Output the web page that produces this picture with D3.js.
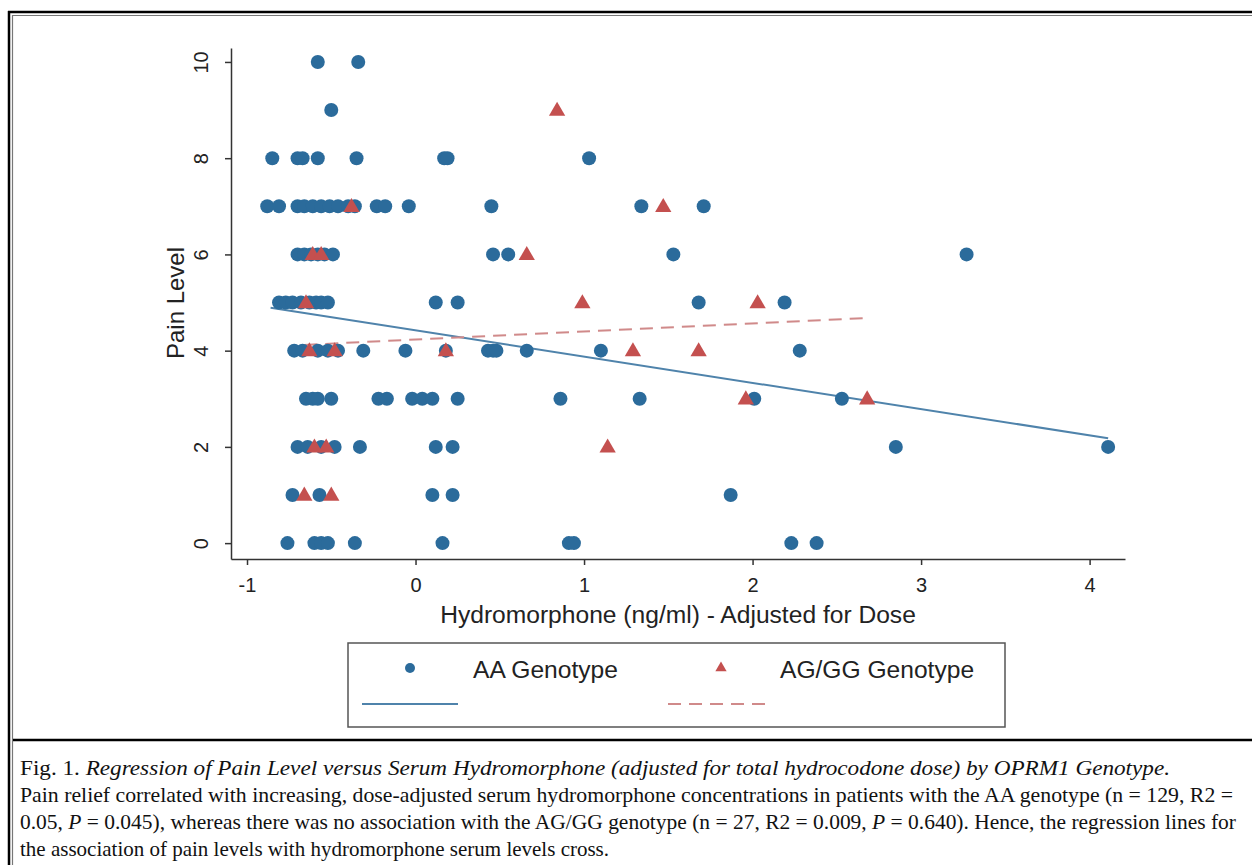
<!DOCTYPE html>
<html>
<head>
<meta charset="utf-8">
<script src="https://cdn.jsdelivr.net/npm/d3@7"></script>
<style>
  body { margin: 0; background: #fff; }
  svg { display: block; }
  .axis text { font-family: "Liberation Sans", Arial, sans-serif; font-size: 20px; fill: #222; }
  .axis path, .axis line { stroke: #333; stroke-width: 1.5; }
</style>
</head>
<body>
<svg id="fig" width="1252" height="865"></svg>
<script>
// AA genotype points (x = hydromorphone adjusted, y = pain level)
const aaX = [
  -0.58, -0.34,
  -0.50,
  -0.85, -0.70, -0.67, -0.58, -0.35, 0.17, 0.19, 1.03,
  -0.88, -0.81, -0.70, -0.66, -0.61, -0.56, -0.51, -0.46, -0.40, -0.36, -0.23, -0.18, -0.04, 0.45, 1.34, 1.71,
  -0.70, -0.66, -0.62, -0.58, -0.54, -0.49, 0.46, 0.55, 1.53, 3.27,
  -0.81, -0.77, -0.73, -0.68, -0.63, -0.59, -0.56, -0.52, 0.12, 0.25, 1.68, 2.19,
  -0.72, -0.67, -0.58, -0.52, -0.46, -0.31, -0.06, 0.18, 0.43, 0.46, 0.48, 0.66, 1.10, 2.28,
  -0.65, -0.61, -0.58, -0.50, -0.22, -0.17, -0.02, 0.04, 0.10, 0.25, 0.86, 1.33, 2.01, 2.53,
  -0.70, -0.64, -0.56, -0.48, -0.33, 0.12, 0.22, 2.85, 4.11,
  -0.73, -0.57, 0.10, 0.22, 1.87,
  -0.76, -0.60, -0.56, -0.52, -0.36, 0.16, 0.91, 0.94, 2.23, 2.38
];
const aaY = [
  10, 10,
  9,
  8, 8, 8, 8, 8, 8, 8, 8,
  7, 7, 7, 7, 7, 7, 7, 7, 7, 7, 7, 7, 7, 7, 7, 7,
  6, 6, 6, 6, 6, 6, 6, 6, 6, 6,
  5, 5, 5, 5, 5, 5, 5, 5, 5, 5, 5, 5,
  4, 4, 4, 4, 4, 4, 4, 4, 4, 4, 4, 4, 4, 4,
  3, 3, 3, 3, 3, 3, 3, 3, 3, 3, 3, 3, 3, 3,
  2, 2, 2, 2, 2, 2, 2, 2, 2,
  1, 1, 1, 1, 1,
  0, 0, 0, 0, 0, 0, 0, 0, 0, 0
];

// AG/GG genotype points
const agX = [0.84, -0.38, 1.47, -0.61, -0.56, 0.66, -0.65, 0.99, 2.03,
             -0.63, -0.48, 0.18, 1.29, 1.68, 1.96, 2.68, -0.60, -0.53, 1.14, -0.66, -0.50];
const agY = [9, 7, 7, 6, 6, 6, 5, 5, 5,
             4, 4, 4, 4, 4, 3, 3, 2, 2, 2, 1, 1];

// fitted regression lines (end points)
const aaFitX = [-0.86, 4.11];
const aaFitY = [4.89, 2.18];
const agFitX = [-0.66, 2.68];
const agFitY = [4.12, 4.68];

const xTicks = [-1, 0, 1, 2, 3, 4];
const yTicks = [0, 2, 4, 6, 8, 10];

const seriesNames = ["AA Genotype", "AG/GG Genotype"];
const captionTitle = "Regression of  Pain Level versus Serum Hydromorphone (adjusted for total hydrocodone dose) by OPRM1 Genotype.";

const blue = "#2b6b9b";
const red = "#c4504f";
const blueLine = "#4f83ab";
const redLine = "#d08a8a";
const sans = '"Liberation Sans", Arial, sans-serif';
const serif = '"Liberation Serif", "Times New Roman", serif';

const svg = d3.select("#fig");

// frame (double border)
svg.append("line").attr("x1", 8).attr("x2", 1252).attr("y1", 12).attr("y2", 12)
  .attr("stroke", "#000").attr("stroke-width", 2.5);
svg.append("line").attr("x1", 12.5).attr("x2", 1252).attr("y1", 15.5).attr("y2", 15.5)
  .attr("stroke", "#777").attr("stroke-width", 1.2);
svg.append("line").attr("x1", 9).attr("x2", 9).attr("y1", 11).attr("y2", 865)
  .attr("stroke", "#000").attr("stroke-width", 2.5);
svg.append("line").attr("x1", 12.5).attr("x2", 12.5).attr("y1", 15).attr("y2", 865)
  .attr("stroke", "#777").attr("stroke-width", 1.2);
svg.append("line").attr("x1", 13).attr("x2", 1252).attr("y1", 740).attr("y2", 740)
  .attr("stroke", "#000").attr("stroke-width", 2.5);

// scales
const x = d3.scaleLinear().domain([-1.095, 4.21]).range([231, 1125]);
const y = d3.scaleLinear().domain([-0.33, 10.29]).range([559, 48]);

const g = svg.append("g");

// axes
g.append("g")
  .attr("class", "axis")
  .attr("transform", "translate(0,559)")
  .call(d3.axisBottom(x).tickValues(xTicks).tickSize(6).tickSizeOuter(0).tickFormat(d3.format("d")))
  .selectAll("text")
  .attr("y", 19);

g.append("g")
  .attr("class", "axis")
  .attr("transform", "translate(231,0)")
  .call(d3.axisLeft(y).tickValues(yTicks).tickSize(6).tickSizeOuter(0))
  .selectAll("text")
  .attr("transform", "rotate(-90)")
  .attr("x", 0)
  .attr("y", -23)
  .attr("dy", 0)
  .attr("text-anchor", "middle");

g.selectAll(".axis .tick text").each(function () {
  // plain hyphen for negatives, like Stata
  const t = d3.select(this);
  t.text(t.text().replace("−", "-"));
});

// axis titles
g.append("text")
  .attr("x", 678).attr("y", 623)
  .attr("text-anchor", "middle")
  .style("font-family", sans).style("font-size", "24.6px").style("fill", "#222")
  .text("Hydromorphone (ng/ml) - Adjusted for Dose");

g.append("text")
  .attr("transform", "translate(184,303) rotate(-90)")
  .attr("text-anchor", "middle")
  .style("font-family", sans).style("font-size", "24px").style("fill", "#222")
  .text("Pain Level");

// regression lines (below markers)
const line = d3.line().x((d) => x(d[0])).y((d) => y(d[1]));

g.append("path")
  .datum(d3.zip(aaFitX, aaFitY))
  .attr("d", line)
  .attr("fill", "none")
  .attr("stroke", blueLine)
  .attr("stroke-width", 2);

g.append("path")
  .datum(d3.zip(agFitX, agFitY))
  .attr("d", line)
  .attr("fill", "none")
  .attr("stroke", redLine)
  .attr("stroke-width", 2)
  .attr("stroke-dasharray", "13,8");

// AA circles
g.selectAll("circle.aa")
  .data(d3.zip(aaX, aaY))
  .join("circle")
  .attr("class", "aa")
  .attr("cx", (d) => x(d[0]))
  .attr("cy", (d) => y(d[1]))
  .attr("r", 7)
  .attr("fill", blue);

// AG/GG triangles
const tri = d3.symbol().type(d3.symbolTriangle).size(115);
g.selectAll("path.ag")
  .data(d3.zip(agX, agY))
  .join("path")
  .attr("class", "ag")
  .attr("transform", (d) => `translate(${x(d[0])},${y(d[1]) + 1})`)
  .attr("d", tri)
  .attr("fill", red);

// legend
const leg = svg.append("g");
leg.append("rect")
  .attr("x", 348).attr("y", 643).attr("width", 657).attr("height", 84)
  .attr("fill", "#fff").attr("stroke", "#555").attr("stroke-width", 1.5);

leg.append("circle").attr("cx", 410).attr("cy", 668).attr("r", 5).attr("fill", blue);
leg.append("path")
  .attr("transform", "translate(721,668)")
  .attr("d", d3.symbol().type(d3.symbolTriangle).size(55))
  .attr("fill", red);

leg.selectAll("text.leg")
  .data(seriesNames)
  .join("text")
  .attr("class", "leg")
  .attr("x", (d, i) => (i === 0 ? 473 : 780))
  .attr("y", 678)
  .style("font-family", sans).style("font-size", "24.6px").style("fill", "#222")
  .text((d) => d);

leg.append("line").attr("x1", 362).attr("x2", 458).attr("y1", 704).attr("y2", 704)
  .attr("stroke", blueLine).attr("stroke-width", 2);
leg.append("line").attr("x1", 668).attr("x2", 765).attr("y1", 704).attr("y2", 704)
  .attr("stroke", redLine).attr("stroke-width", 2).attr("stroke-dasharray", "13,8");

// caption (condensed serif, long lines squeezed to their width in the figure)
const cap = svg.append("g")
  .style("font-family", serif).style("font-size", "21px").style("fill", "#111");

const l1 = cap.append("text").attr("x", 20).attr("y", 775)
  .attr("textLength", 1150).attr("lengthAdjust", "spacingAndGlyphs");
l1.append("tspan").text("Fig. 1. ");
l1.append("tspan").style("font-style", "italic").text(captionTitle);

cap.append("text").attr("x", 20).attr("y", 802)
  .attr("textLength", 1213).attr("lengthAdjust", "spacingAndGlyphs")
  .text("Pain relief correlated with increasing, dose-adjusted serum hydromorphone concentrations in patients with the AA genotype (n = 129, R2 =");

const l3 = cap.append("text").attr("x", 20).attr("y", 829)
  .attr("textLength", 1216).attr("lengthAdjust", "spacingAndGlyphs");
l3.append("tspan").text("0.05, ");
l3.append("tspan").style("font-style", "italic").text("P");
l3.append("tspan").text(" = 0.045), whereas there was no association with the AG/GG genotype (n = 27, R2 = 0.009, ");
l3.append("tspan").style("font-style", "italic").text("P");
l3.append("tspan").text(" = 0.640). Hence, the regression lines for");

cap.append("text").attr("x", 20).attr("y", 856)
  .text("the association of pain levels with hydromorphone serum levels cross.");
</script>
</body>
</html>
